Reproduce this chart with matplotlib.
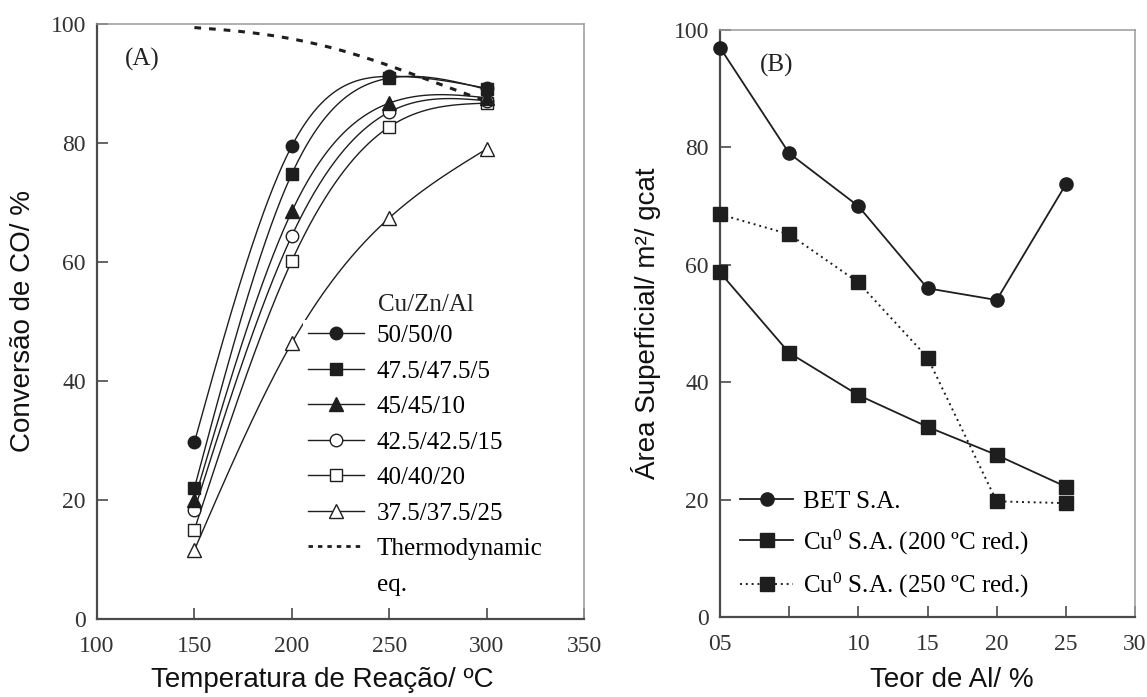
#!/usr/bin/env python3
"""Cu/Zn/Al catalysts: CO conversion vs. temperature (A) and surface areas vs. Al content (B)."""

import matplotlib

matplotlib.use("Agg")
import matplotlib.pyplot as plt
import numpy as np
from matplotlib.lines import Line2D

plt.rcParams["mathtext.fontset"] = "custom"
plt.rcParams["mathtext.rm"] = "Liberation Serif"
plt.rcParams["mathtext.it"] = "Liberation Serif:italic"

SERIF = "Liberation Serif"
SANS = "Liberation Sans"

# --- panel A: CO conversion (%) vs reaction temperature (C)
TEMPS = [150, 200, 250, 300]
COMPOSITIONS = ["50/50/0", "47.5/47.5/5", "45/45/10", "42.5/42.5/15", "40/40/20", "37.5/37.5/25"]
CONV_50 = [29.7, 79.5, 91.2, 89.2]
CONV_47 = [22.0, 74.8, 90.9, 89.0]
CONV_45 = [20.0, 68.5, 86.7, 87.6]
CONV_42 = [18.3, 64.4, 85.2, 87.1]
CONV_40 = [15.0, 60.2, 82.7, 86.7]
CONV_37 = [11.6, 46.4, 67.4, 79.0]

THERMO_T = [150, 175, 200, 225, 250, 275, 300]
THERMO_EQ = [99.4, 98.7, 97.5, 95.6, 93.0, 90.0, 87.0]

# --- panel B: surface areas (m2/gcat) vs Al content (%)
AL_CONTENT = [0, 5, 10, 15, 20, 25]
BET_SA = [97.0, 79.0, 70.0, 56.0, 54.0, 73.7]
CU_SA_200 = [58.7, 45.0, 37.8, 32.4, 27.6, 22.2]
CU_SA_250 = [68.6, 65.2, 57.0, 44.2, 19.7, 19.4]
AL_TICKS = [0, 5, 10, 15, 20, 25, 30]
AL_TICK_LABELS = ["05", "", "10", "15", "20", "25", "30"]

LINE = "#1e1e1e"


def natural_spline(x, y, num=300):
    x = np.asarray(x, float)
    y = np.asarray(y, float)
    n = len(x)
    h = np.diff(x)
    A = np.zeros((n, n))
    rhs = np.zeros(n)
    A[0, 0] = A[-1, -1] = 1.0
    for i in range(1, n - 1):
        A[i, i - 1] = h[i - 1]
        A[i, i] = 2 * (h[i - 1] + h[i])
        A[i, i + 1] = h[i]
        rhs[i] = 3 * ((y[i + 1] - y[i]) / h[i] - (y[i] - y[i - 1]) / h[i - 1])
    c = np.linalg.solve(A, rhs)
    b = (y[1:] - y[:-1]) / h - h * (2 * c[:-1] + c[1:]) / 3
    d = (c[1:] - c[:-1]) / (3 * h)
    xs = np.linspace(x[0], x[-1], num)
    idx = np.clip(np.searchsorted(x, xs, side="right") - 1, 0, n - 2)
    dx = xs - x[idx]
    ys = y[idx] + b[idx] * dx + c[idx] * dx ** 2 + d[idx] * dx ** 3
    return xs, ys


def style_axes(ax):
    for side in ("left", "bottom"):
        ax.spines[side].set_color("#4a4a4a")
        ax.spines[side].set_linewidth(1.6)
    for side in ("top", "right"):
        ax.spines[side].set_color("#9a9a9a")
        ax.spines[side].set_linewidth(1.1)
    ax.tick_params(direction="in", length=8, width=1.2, color="#4a4a4a",
                   labelsize=17, labelcolor="#333333", pad=8,
                   top=False, right=False)
    ax.tick_params(axis="x", pad=12)
    for lab in ax.get_xticklabels() + ax.get_yticklabels():
        lab.set_fontfamily(SERIF)


MARKERS = [
    dict(marker="o", mfc=LINE, ms=9),
    dict(marker="s", mfc=LINE, ms=9),
    dict(marker="^", mfc=LINE, ms=9.5),
    dict(marker="o", mfc="white", ms=9),
    dict(marker="s", mfc="white", ms=9),
    dict(marker="^", mfc="white", ms=9.5),
]


def plot_conversion(ax):
    series = [CONV_50, CONV_47, CONV_45, CONV_42, CONV_40, CONV_37]
    for vals in series:
        xs, ys = natural_spline(TEMPS, vals)
        ax.plot(xs, ys, color=LINE, lw=1.0, zorder=2)
    # draw the markers last-to-first so filled ones sit on top
    for vals, mk in reversed(list(zip(series, MARKERS))):
        ax.plot(TEMPS, vals, linestyle="none", color=LINE, mec=LINE, mew=1.0, zorder=3, **mk)

    xs, ys = natural_spline(THERMO_T, THERMO_EQ)
    ax.plot(xs, ys, color=LINE, lw=2.2, dashes=(2.2, 2.6), zorder=2)

    ax.set_xlim(100, 350)
    ax.set_ylim(0, 100)
    ax.set_xticks(np.arange(100, 351, 50))
    ax.set_yticks(np.arange(0, 101, 20))
    style_axes(ax)

    ax.set_xlabel("Temperatura de Reação/ ºC", fontsize=20, family=SANS, color="#111111")
    ax.set_ylabel("Conversão de CO/ %", fontsize=20, family=SANS, color="#111111")
    ax.xaxis.label.set_va("center")
    ax.yaxis.label.set_va("center")
    ax.xaxis.set_label_coords(0.462, -0.103)
    ax.yaxis.set_label_coords(-0.152, 0.5)

    ax.text(0.057, 0.94, "(A)", transform=ax.transAxes, fontsize=18,
            family=SERIF, va="center", ha="left", color="#222222")

    handles = [Line2D([], [], color=LINE, lw=1.0, mec=LINE, mew=1.0, **mk) for mk in MARKERS]
    handles.append(Line2D([], [], color=LINE, lw=2.0, dashes=(1.6, 1.8)))
    handles.append(Line2D([], [], linestyle="none"))  # second line of the last label
    labels = COMPOSITIONS + ["Thermodynamic", "eq."]
    leg = ax.legend(handles, labels, loc="upper left", bbox_to_anchor=(0.423, 0.503),
                    prop={"family": SERIF, "size": 18}, frameon=True, fancybox=False,
                    facecolor="white", edgecolor="none", framealpha=1.0,
                    borderpad=0.2, borderaxespad=0.0, handlelength=2.25,
                    handletextpad=0.5, labelspacing=0.52)
    leg.set_zorder(5)
    ax.text(0.577, 0.527, "Cu/Zn/Al", transform=ax.transAxes, fontsize=18,
            family=SERIF, va="center", ha="left", color="#222222", zorder=6)


def plot_surface_area(ax):
    ax.plot(AL_CONTENT, BET_SA, color=LINE, lw=1.3, marker="o", ms=9.5,
            mfc=LINE, mec=LINE, label="BET S.A.", zorder=3)
    ax.plot(AL_CONTENT, CU_SA_200, color=LINE, lw=1.3, marker="s", ms=9.5,
            mfc=LINE, mec=LINE, label="Cu$^0$ S.A. (200 ºC red.)", zorder=3)
    ax.plot(AL_CONTENT, CU_SA_250, color=LINE, lw=1.4, linestyle=(0, (1, 2)),
            marker="s", ms=9.5, mfc=LINE, mec=LINE,
            label="Cu$^0$ S.A. (250 ºC red.)", zorder=3)

    ax.set_xlim(0, 30)
    ax.set_ylim(0, 100)
    ax.set_xticks(AL_TICKS)
    ax.set_xticklabels(AL_TICK_LABELS)
    ax.set_yticks(np.arange(0, 101, 20))
    style_axes(ax)
    for m in ax.lines:
        m.set_clip_on(False)

    ax.set_xlabel("Teor de Al/ %", fontsize=20, family=SANS, color="#111111")
    ax.set_ylabel("Área Superficial/ m²/ gcat", fontsize=20, family=SANS, color="#111111")
    ax.xaxis.label.set_va("center")
    ax.yaxis.label.set_va("center")
    ax.xaxis.set_label_coords(0.559, -0.107)
    ax.yaxis.set_label_coords(-0.178, 0.5)

    ax.text(0.096, 0.94, "(B)", transform=ax.transAxes, fontsize=18,
            family=SERIF, va="center", ha="left", color="#222222")

    ax.legend(loc="upper left", bbox_to_anchor=(0.037, 0.224),
              prop={"family": SERIF, "size": 18}, frameon=False,
              borderpad=0.2, borderaxespad=0.0, handlelength=2.1,
              handletextpad=0.4, labelspacing=0.58)


def main():
    fig = plt.figure(figsize=(11.47, 6.97), dpi=100)
    ax_a = fig.add_axes([97 / 1147, 1 - 619 / 697, 487 / 1147, 595 / 697])
    ax_b = fig.add_axes([720 / 1147, 1 - 617 / 697, 415 / 1147, 587 / 697])
    plot_conversion(ax_a)
    plot_surface_area(ax_b)
    fig.savefig("out.png", dpi=100)


if __name__ == "__main__":
    main()
